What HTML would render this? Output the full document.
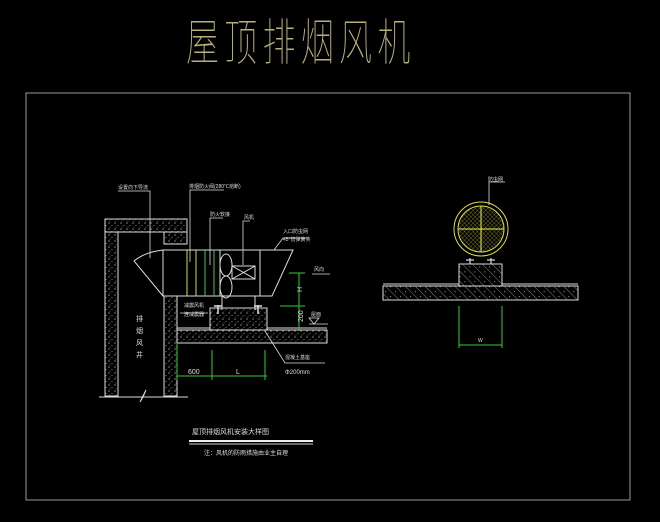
<!DOCTYPE html>
<html><head><meta charset="utf-8"><style>
html,body{margin:0;padding:0;background:#000;width:660px;height:522px;overflow:hidden}
svg{display:block}
text{font-family:"Liberation Sans","Noto Sans CJK SC",sans-serif}
</style></head><body>
<svg width="660" height="522" viewBox="0 0 660 522" xmlns="http://www.w3.org/2000/svg">
<defs>
<pattern id="dots" width="6" height="6" patternUnits="userSpaceOnUse">
<rect width="6" height="6" fill="#000"/>
<circle cx="1" cy="1" r="0.6" fill="#ccc"/><circle cx="4" cy="3.5" r="0.5" fill="#aaa"/><circle cx="2" cy="5" r="0.4" fill="#ddd"/>
</pattern>
<pattern id="hatch" width="7" height="7" patternUnits="userSpaceOnUse" patternTransform="rotate(-45)">
<rect width="7" height="7" fill="#000"/><line x1="0" y1="0" x2="0" y2="7" stroke="#bbb" stroke-width="0.7"/>
<circle cx="3.5" cy="3" r="0.5" fill="#ddd"/>
</pattern>
<pattern id="grid" width="3" height="3" patternUnits="userSpaceOnUse" patternTransform="rotate(45)">
<path d="M0 0H3M0 0V3" stroke="#cc4" stroke-width="0.5" fill="none"/>
</pattern>
</defs>

<!-- title -->
<text x="0" y="60" font-size="50" fill="#b8b27a" transform="translate(186,0) scale(0.66,1)" letter-spacing="8" font-weight="100">屋顶排烟风机</text>

<!-- frame -->
<rect x="26" y="93" width="604" height="407" fill="none" stroke="#999" stroke-width="1"/>

<!-- LEFT SECTION -->
<g stroke="#ddd" stroke-width="1">
<rect x="105" y="219" width="13" height="177" fill="url(#dots)"/>
<rect x="105" y="219" width="82" height="13" fill="url(#dots)"/>
<rect x="164" y="232" width="23" height="12" fill="url(#dots)"/>
<rect x="164" y="296" width="13" height="100" fill="url(#dots)"/>
<rect x="177" y="330" width="150" height="13" fill="url(#dots)"/>
<rect x="210" y="308" width="57" height="22" fill="url(#dots)"/>
<line x1="177" y1="328" x2="210" y2="328"/>
<line x1="267" y1="328" x2="327" y2="328"/>
<line x1="177" y1="296" x2="177" y2="328"/>
<polyline points="99,397 143,397 146,390 140,402 143,397 188,397" fill="none"/>
</g>
<g fill="#ddd" font-size="7">
<text x="136" y="321">排</text><text x="136" y="333">烟</text><text x="136" y="345">风</text><text x="136" y="357">井</text>
</g>
<g stroke="#ddd" stroke-width="1" fill="none">
<path d="M163 250 Q145 252 134 261 L163 296"/>
<rect x="163" y="250" width="97" height="46"/>
<polyline points="260,250 293,250 272,296 260,296"/>
<rect x="232" y="266" width="23" height="13"/>
<line x1="232" y1="266" x2="255" y2="279"/><line x1="232" y1="279" x2="255" y2="266"/>
<ellipse cx="226" cy="265" rx="6" ry="11"/><ellipse cx="226" cy="287" rx="6" ry="11"/>
<line x1="220" y1="250" x2="220" y2="296"/>
<line x1="222" y1="296" x2="222" y2="310"/><line x1="255" y1="296" x2="255" y2="310"/>
</g>
<g stroke="#dd4" stroke-width="1"><line x1="187" y1="250" x2="187" y2="296"/><line x1="196" y1="250" x2="196" y2="296"/></g>
<g stroke="#4c4" stroke-width="1"><line x1="205" y1="250" x2="205" y2="296"/><line x1="214" y1="250" x2="214" y2="296"/></g>
<g stroke="#ddd" stroke-width="1.5"><line x1="218" y1="305" x2="218" y2="314"/><line x1="214" y1="306" x2="222" y2="306"/><line x1="258" y1="305" x2="258" y2="314"/><line x1="254" y1="306" x2="262" y2="306"/></g>
<g stroke="#3c3" stroke-width="1" fill="none">
<line x1="299" y1="273" x2="299" y2="330"/>
<line x1="289" y1="273" x2="305" y2="273"/><line x1="280" y1="306" x2="305" y2="306"/>
<line x1="177" y1="376" x2="267" y2="376"/>
<line x1="177" y1="343" x2="177" y2="380"/><line x1="212" y1="350" x2="212" y2="380"/><line x1="265" y1="350" x2="265" y2="380"/>
</g>
<g fill="#ddd" font-size="7">
<text x="302" y="292" transform="rotate(-90 302 292)">H</text>
<text x="303" y="322" transform="rotate(-90 303 322)">200</text>
<text x="188" y="374">600</text>
<text x="236" y="374">L</text>
</g>
<g stroke="#ddd" stroke-width="0.8" fill="none">
<polyline points="118,191 150,191 150,258"/>
<polyline points="190,190 224,190 190,190 190,262"/>
<polyline points="210,218 223,218 210,218 210,265"/>
<polyline points="243,221 250,221 243,221 243,265"/>
<polyline points="283,238 310,238 283,238 274,250"/>
<line x1="312" y1="274" x2="330" y2="274"/>
<polyline points="309,324 328,324"/><path d="M309 318 L314 324 L319 318 Z"/>
<polyline points="265,331 285,363 325,363"/>
<line x1="180" y1="313" x2="208" y2="313"/>
</g>
<g fill="#ddd" font-size="5">
<text x="118" y="189">设置向下导流</text>
<text x="189" y="188">排烟防火阀(280℃熔断)</text>
<text x="210" y="216">防火软接</text>
<text x="244" y="219">风机</text>
<text x="283" y="233">入口防虫网</text>
<text x="283" y="241">45°管弹簧头</text>
<text x="314" y="271">风向</text>
<text x="311" y="316">屋面</text>
<text x="184" y="307">减震风机</text>
<text x="184" y="316">连减震器</text>
<text x="285" y="359">混凝土基座</text>
<text x="285" y="374" font-size="6">Φ200mm</text>
</g>

<!-- RIGHT VIEW -->
<circle cx="481" cy="229" r="27" fill="none" stroke="#dd4" stroke-width="1"/>
<circle cx="481" cy="229" r="23" fill="url(#grid)" stroke="#dd4" stroke-width="1"/>
<g stroke="#ee5" stroke-width="1"><line x1="458" y1="229" x2="504" y2="229"/><line x1="481" y1="206" x2="481" y2="252"/></g>
<g stroke="#ddd" stroke-width="0.8" fill="none"><polyline points="489,182 505,182 489,182 489,205"/></g>
<text x="488" y="181" fill="#ddd" font-size="5">防虫网</text>
<g stroke="#ddd" stroke-width="1.2"><line x1="470" y1="258" x2="470" y2="266"/><line x1="491" y1="258" x2="491" y2="266"/><line x1="466" y1="260" x2="474" y2="260"/><line x1="487" y1="260" x2="495" y2="260"/></g>
<rect x="459" y="264" width="43" height="22" fill="url(#hatch)" stroke="#ddd"/>
<rect x="383" y="286" width="195" height="14" fill="url(#hatch)" stroke="#ddd"/>
<line x1="383" y1="284" x2="459" y2="284" stroke="#ddd"/><line x1="502" y1="284" x2="578" y2="284" stroke="#ddd"/>
<g stroke="#3c3" fill="none"><line x1="459" y1="306" x2="459" y2="348"/><line x1="502" y1="306" x2="502" y2="348"/><line x1="459" y1="345" x2="502" y2="345"/></g>
<text x="478" y="342" fill="#ddd" font-size="5">W</text>

<text x="192" y="434" fill="#ddd" font-size="7">屋顶排烟风机安装大样图</text>
<rect x="189" y="440" width="124" height="2" fill="#eee"/>
<line x1="189" y1="444" x2="313" y2="444" stroke="#ccc"/>
<text x="204" y="455" fill="#ddd" font-size="6">注：风机的防雨措施由业主自理</text>
</svg>
</body></html>
